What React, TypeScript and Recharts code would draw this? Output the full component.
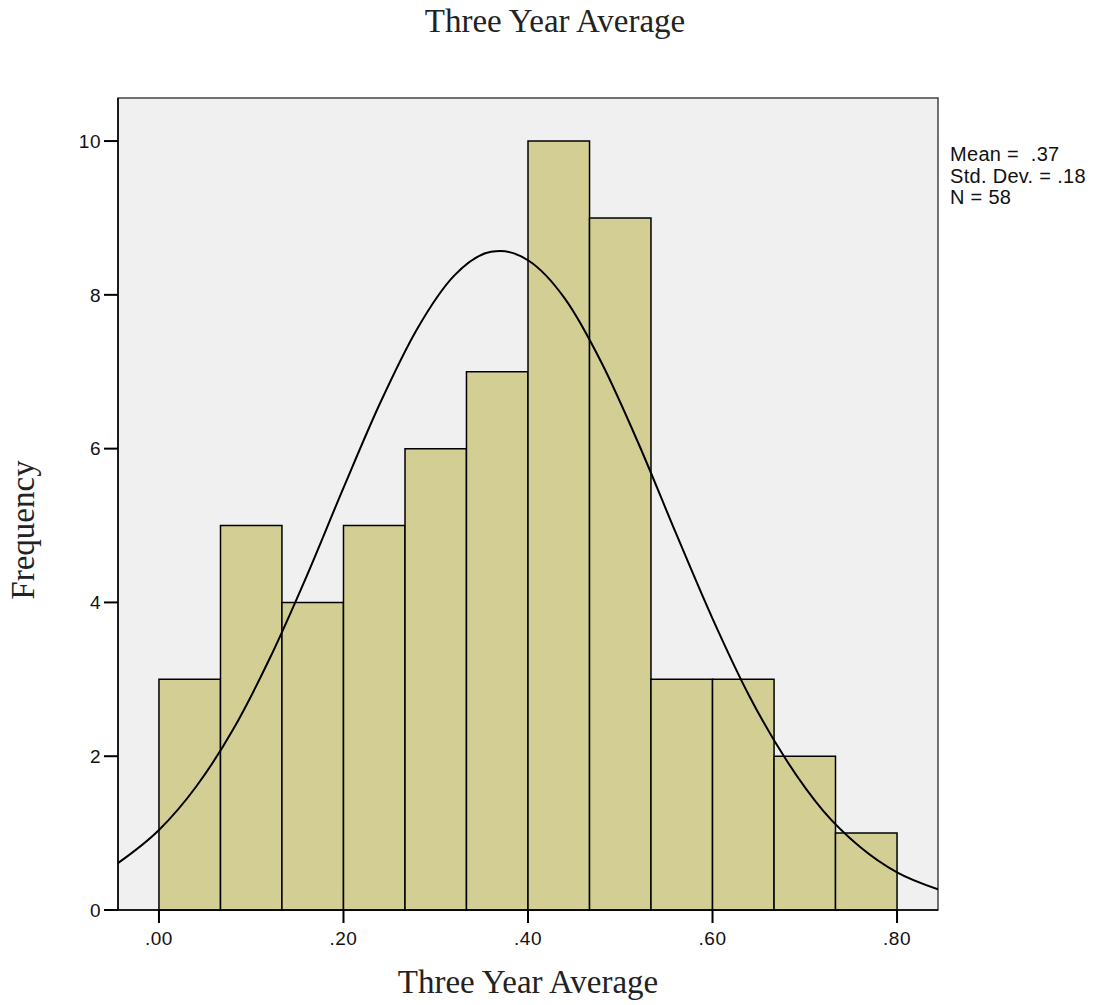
import React from "react";
import { ComposedChart, XAxis, YAxis, Line, ReferenceArea } from "recharts";

const binStarts = [0, 0.0667, 0.1333, 0.2, 0.2667, 0.3333, 0.4, 0.4667, 0.5333, 0.6, 0.6667, 0.7333];
const binEnds = [0.0667, 0.1333, 0.2, 0.2667, 0.3333, 0.4, 0.4667, 0.5333, 0.6, 0.6667, 0.7333, 0.8];
const frequencies = [3, 5, 4, 5, 6, 7, 10, 9, 3, 3, 2, 1];

const curveX = [-0.0444, 0, 0.04, 0.08, 0.12, 0.16, 0.2, 0.24, 0.28, 0.32, 0.36, 0.37, 0.4, 0.44, 0.48, 0.52, 0.56, 0.6, 0.64, 0.68, 0.72, 0.76, 0.8, 0.8444];
const curveY = [0.61, 1.04, 1.6, 2.34, 3.27, 4.34, 5.49, 6.6, 7.56, 8.25, 8.56, 8.57, 8.45, 7.95, 7.11, 6.06, 4.91, 3.79, 2.78, 1.95, 1.29, 0.82, 0.49, 0.27];

const xTicks = [0, 0.2, 0.4, 0.6, 0.8];
const yTicks = [0, 2, 4, 6, 8, 10];
const statsLines = ["Mean =  .37", "Std. Dev. = .18", "N = 58"];
const titleText = "Three Year Average";
const xLabel = "Three Year Average";
const yLabel = "Frequency";

const X_MIN = -0.0444;
const X_MAX = 0.8444;
const Y_MAX = 10.56;

const curveData = curveX.map((x, i) => ({ x, y: curveY[i] }));

const fmtX = (v: number) => v.toFixed(2).replace(/^0/, "");

const tickFont = { fill: "#111", fontFamily: "Liberation Sans, Arial", fontSize: 19, letterSpacing: 0.5 };

export default function App() {
  return (
    <div style={{ position: "absolute", left: 0, top: 0, width: 1100, height: 1005, background: "#fff" }}>
      <ComposedChart
        width={1100}
        height={1005}
        data={curveData}
        margin={{ top: 98, right: 162, bottom: 55, left: 58 }}
      >
        <XAxis
          type="number"
          dataKey="x"
          domain={[X_MIN, X_MAX]}
          allowDataOverflow
          ticks={xTicks}
          tickFormatter={fmtX}
          height={40}
          stroke="#000"
          tickSize={13}
          tickMargin={9}
          tick={tickFont}
          axisLine={{ stroke: "#000", strokeWidth: 1.5 }}
          tickLine={{ stroke: "#000", strokeWidth: 2 }}
        />
        <YAxis
          type="number"
          domain={[0, Y_MAX]}
          allowDataOverflow
          ticks={yTicks}
          width={60}
          stroke="#000"
          tickSize={14}
          tickMargin={3}
          tick={tickFont}
          axisLine={{ stroke: "#000", strokeWidth: 1.5 }}
          tickLine={{ stroke: "#000", strokeWidth: 2 }}
        />
        <ReferenceArea
          x1={X_MIN}
          x2={X_MAX}
          y1={0}
          y2={Y_MAX}
          fill="#f0f0f0"
          fillOpacity={1}
          stroke="#444"
          strokeWidth={1.5}
          ifOverflow="visible"
        />
        {frequencies.map((f, i) => (
          <ReferenceArea
            key={i}
            x1={binStarts[i]}
            x2={binEnds[i]}
            y1={0}
            y2={f}
            fill="#d3cf94"
            fillOpacity={1}
            stroke="#000"
            strokeWidth={1.5}
            ifOverflow="visible"
          />
        ))}
        <Line
          type="monotone"
          dataKey="y"
          stroke="#000"
          strokeWidth={2}
          dot={false}
          activeDot={false}
          isAnimationActive={false}
        />
      </ComposedChart>
      <div style={{ position: "absolute", left: 0, width: 1110, top: 3, textAlign: "center", fontFamily: "Liberation Serif, Times New Roman", fontSize: 33, color: "#222" }}>
        {titleText}
      </div>
      <div style={{ position: "absolute", left: 118, width: 820, top: 964, textAlign: "center", fontFamily: "Liberation Serif, Times New Roman", fontSize: 33, color: "#222" }}>
        {xLabel}
      </div>
      <div style={{ position: "absolute", left: 23, top: 530, width: 0, height: 0 }}>
        <div style={{ position: "absolute", transform: "translate(-50%, -50%) rotate(-90deg)", whiteSpace: "pre", fontFamily: "Liberation Serif, Times New Roman", fontSize: 33, color: "#222" }}>
          {yLabel}
        </div>
      </div>
      <div style={{ position: "absolute", left: 950, top: 144, fontFamily: "Liberation Sans, Arial", fontSize: 20, lineHeight: "21.5px", letterSpacing: 0.3, color: "#111", whiteSpace: "pre" }}>
        {statsLines.map((s, i) => (
          <div key={i}>{s}</div>
        ))}
      </div>
    </div>
  );
}
